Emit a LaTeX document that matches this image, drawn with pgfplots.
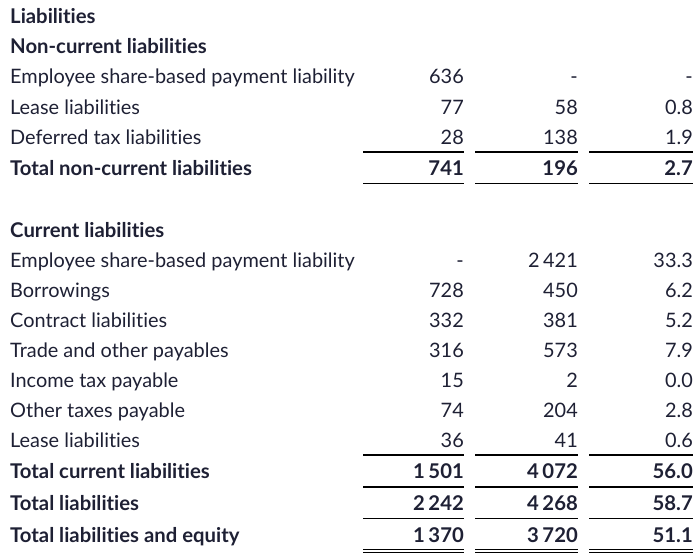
\documentclass[border=0pt]{standalone}
\usepackage{fontspec}
\setmainfont{Lato}[Ligatures={NoCommon}]
\usepackage{xcolor}
\usepackage{pgfplots}
\pgfplotsset{compat=1.18}
\definecolor{txt}{RGB}{30,32,52}
\newcommand{\ts}{\hspace{3.5bp}}

\begin{document}
\begin{tikzpicture}
\begin{axis}[
    scale only axis,
    width=699bp, height=558bp,
    xmin=0, xmax=699, ymin=0, ymax=558,
    y dir=reverse,
    hide axis, clip=false,
    every axis plot/.append style={mark=none},
    lab/.style={only marks, mark=none, point meta=explicit symbolic,
        nodes near coords,
        every node near coord/.append style={anchor=base west, inner sep=0pt,
            text=txt, font=\fontsize{19.9bp}{22bp}\selectfont}},
    num/.style={only marks, mark=none, point meta=explicit symbolic,
        nodes near coords,
        every node near coord/.append style={anchor=base east, inner sep=0pt,
            text=txt, font=\fontsize{19.9bp}{22bp}\selectfont}},
    bold/.style={every node near coord/.append style={font=\fontsize{20.3bp}{22bp}\selectfont\bfseries}},
    thick rule/.style={black, line width=2bp},
    thin rule/.style={black, line width=1bp},
]
% frame of the page
\addplot[draw=none] coordinates {(0,0) (699,558)};

% row labels
\addplot[lab] coordinates {
 (10,84) [Employee share-based payment liability]
 (10,114) [Lease liabilities]
 (10,144) [Deferred tax liabilities]
 (10,267) [Employee share-based payment liability]
 (10,297) [Borrowings]
 (10,327) [Contract liabilities]
 (10,357) [Trade and other payables]
 (10,387) [Income tax payable]
 (10,417) [Other taxes payable]
 (10,447) [Lease liabilities]
};
\addplot[lab, bold] coordinates {
 (10,24) [Liabilities]
 (10,54) [Non-current liabilities]
 (10,175) [Total non-current liabilities]
 (10,237) [Current liabilities]
 (10,478) [Total current liabilities]
 (10,510) [Total liabilities]
 (10,542) [Total liabilities and equity]
};

% first column
\addplot[num] coordinates {
 (464,84) [636] (464,114) [77] (464,144) [28]
 (464,267) [-] (464,297) [728] (464,327) [332] (464,357) [316]
 (464,387) [15] (464,417) [74] (464,447) [36]
};
\addplot[num, bold] coordinates {
 (464,175) [741] (464,478) [1\ts501] (464,510) [2\ts242] (464,542) [1\ts370]
};
% second column
\addplot[num] coordinates {
 (578,84) [-] (578,114) [58] (578,144) [138]
 (578,267) [2\ts421] (578,297) [450] (578,327) [381] (578,357) [573]
 (578,387) [2] (578,417) [204] (578,447) [41]
};
\addplot[num, bold] coordinates {
 (578,175) [196] (578,478) [4\ts072] (578,510) [4\ts268] (578,542) [3\ts720]
};
% third column
\addplot[num] coordinates {
 (693,84) [-] (693,114) [0.8] (693,144) [1.9]
 (693,267) [33.3] (693,297) [6.2] (693,327) [5.2] (693,357) [7.9]
 (693,387) [0.0] (693,417) [2.8] (693,447) [0.6]
};
\addplot[num, bold] coordinates {
 (693,175) [2.7] (693,478) [56.0] (693,510) [58.7] (693,542) [51.1]
};

% rules under the columns
\addplot[thick rule] coordinates {(363,152) (464,152)};
\addplot[thick rule] coordinates {(475,152) (578,152)};
\addplot[thick rule] coordinates {(589,152) (693,152)};
\addplot[thin rule] coordinates {(363,183) (464,183)};
\addplot[thin rule] coordinates {(475,183) (578,183)};
\addplot[thin rule] coordinates {(589,183) (693,183)};

\addplot[thick rule] coordinates {(363,455) (464,455)};
\addplot[thick rule] coordinates {(475,455) (578,455)};
\addplot[thick rule] coordinates {(589,455) (693,455)};
\addplot[thick rule] coordinates {(363,487) (464,487)};
\addplot[thick rule] coordinates {(475,487) (578,487)};
\addplot[thick rule] coordinates {(589,487) (693,487)};
\addplot[thin rule] coordinates {(363,518) (464,518)};
\addplot[thin rule] coordinates {(475,518) (578,518)};
\addplot[thin rule] coordinates {(589,518) (693,518)};
\addplot[thin rule] coordinates {(363,549) (464,549)};
\addplot[thin rule] coordinates {(475,549) (578,549)};
\addplot[thin rule] coordinates {(589,549) (693,549)};
\addplot[thin rule] coordinates {(363,552.5) (464,552.5)};
\addplot[thin rule] coordinates {(475,552.5) (578,552.5)};
\addplot[thin rule] coordinates {(589,552.5) (693,552.5)};
\end{axis}
\end{tikzpicture}
\end{document}
